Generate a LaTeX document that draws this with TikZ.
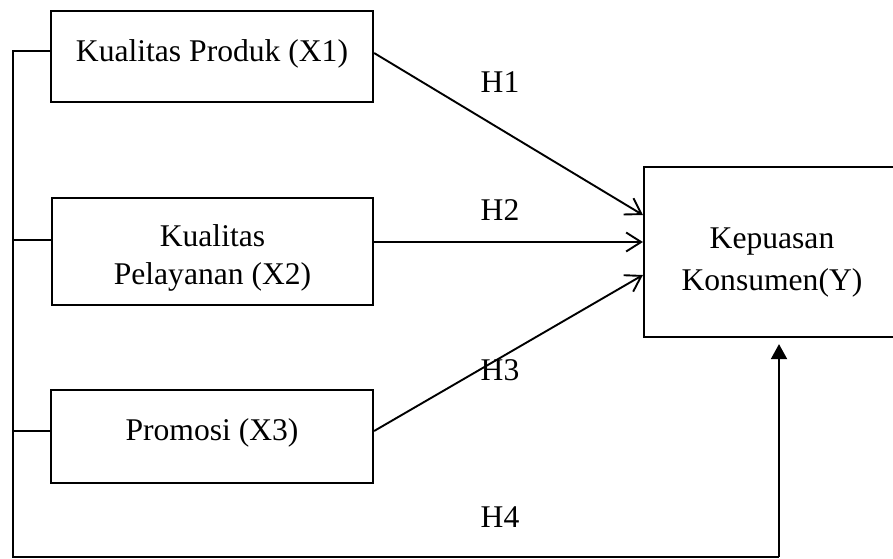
\documentclass[tikz,border=0pt]{standalone}
\usepackage{fontspec}
\setmainfont{Liberation Serif}
\usetikzlibrary{arrows.meta,positioning}
\tikzset{
    var-box/.style = {draw, line width=2.2pt, rectangle, inner sep=0pt},
    var-text/.style = {inner sep=0pt, align=center, font=\fontsize{31.6}{38}\selectfont},
    hyp-label/.style = {inner sep=0pt, font=\fontsize{31.6}{38}\selectfont},
    path-arrow/.style = {line width=1.9pt, -{Straight Barb[length=15pt,width=19pt,line width=1.9pt]}},
    link-line/.style = {line width=1.9pt},
}

\begin{document}
\begin{tikzpicture}[x=1pt,y=-1pt]
\useasboundingbox (0,0) rectangle (893,558);
\node[var-box, minimum width=322pt, minimum height=91pt] (x1) at (212,56.5) {};
\node[var-text, anchor=base] (x1-text) at ([yshift=-52pt]x1.north) {Kualitas Produk (X1)};
\node[var-box, minimum width=321pt, minimum height=107pt] (x2) at (212.5,251.5) {};
\node[var-text, anchor=north] (x2-text) at ([yshift=-27pt]x2.north) {Kualitas\\Pelayanan (X2)};
\node[var-box, minimum width=322pt, minimum height=93pt] (x3) at (212,436.5) {};
\node[var-text, anchor=base] (x3-text) at ([yshift=-52pt]x3.north) {Promosi (X3)};
\node[var-box, minimum width=256pt, minimum height=170pt] (y) at (772,252) {};
\node[var-text, anchor=north] (y-text) at ([yshift=-62pt]y.north) {Kepuasan\\[4pt]Konsumen(Y)};

\draw[path-arrow] ([yshift=3.5pt]x1.east) -- ([yshift=37pt]y.west);
\draw[path-arrow] ([yshift=9.5pt]x2.east) -- ([yshift=10pt]y.west);
\draw[path-arrow] ([yshift=5.5pt]x3.east) -- ([yshift=-23pt]y.west);

\node[hyp-label] (h1) at (500,82) {H1};
\node[hyp-label] (h2) at (500,210) {H2};
\node[hyp-label] (h3) at (500,370) {H3};
\node[hyp-label] (h4) at (500,517) {H4};

\coordinate (corner) at (13,557);
\coordinate (turn) at (779,557);
\draw[link-line] ([yshift=5.5pt]x1.west) -| (corner) -- (turn);
\draw[link-line] ([yshift=11.5pt]x2.west) -- ([yshift=11.5pt]x2.west -| corner);
\draw[link-line] ([yshift=5.5pt]x3.west) -- ([yshift=5.5pt]x3.west -| corner);
\draw[link-line, -{Triangle[length=15pt,width=16pt]}, shorten >=6pt] (turn) -- (turn |- y.south);
\end{tikzpicture}
\end{document}
